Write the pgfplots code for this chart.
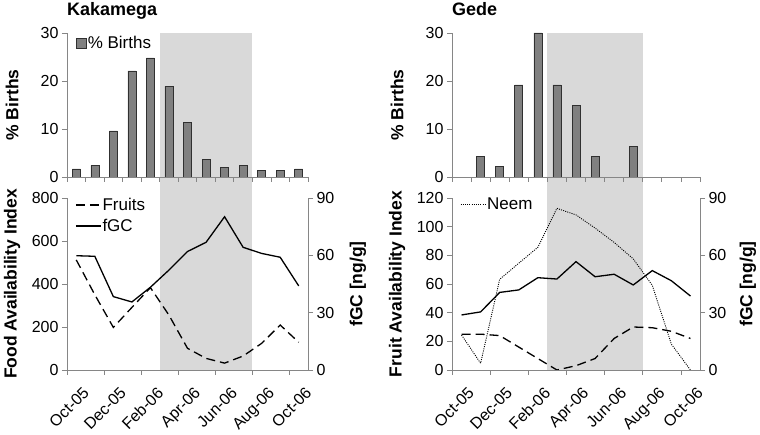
\documentclass[border=0pt]{standalone}
\usepackage{pgfplots}
\pgfplotsset{compat=1.18}
\usepackage{fontspec}
\setmainfont{Liberation Sans}
\definecolor{shadegray}{HTML}{D9D9D9}
\definecolor{barfill}{HTML}{808080}
\definecolor{bardraw}{HTML}{303030}
\definecolor{axgray}{HTML}{868686}
\pgfplotsset{
  base/.style={scale only axis, axis on top, clip=false,
    xmin=0, xmax=13,
    axis line style={draw=axgray, line width=0.8pt},
    tick style={draw=axgray, line width=0.8pt},
    major tick length=5pt, tick align=outside,
    tick label style={font=\fontsize{16}{16}\selectfont, text=black},
    /pgf/number format/assume math mode=true,
    legend style={draw=none, fill=none, inner sep=0pt, font=\fontsize{17}{17}\selectfont,
      nodes={inner sep=1pt}, row sep=5pt},
    legend cell align=left,
  },
  lab/.style={every axis y label/.style={at={(axis description cs:#1,0.5)}, rotate=90, anchor=center,
      font=\bfseries\fontsize{17.5}{17.5}\selectfont}},
  ttl/.style={every axis title/.style={at={(axis description cs:0,1)}, anchor=base west, yshift=17pt,
      inner sep=0pt, font=\bfseries\fontsize{18}{18}\selectfont}},
  linelegend/.style={legend image code/.code={\draw[##1] (0pt,0pt) -- (25pt,0pt);}},
  datex/.style={xtick={0,2,...,12},
    xticklabels={Oct-05,Dec-05,Feb-06,Apr-06,Jun-06,Aug-06,Oct-06},
    every x tick label/.style={xshift=15pt, yshift=-11pt, rotate=45, anchor=north east, inner sep=0pt,
      font=\fontsize{16}{16}\selectfont, text=black}},
  fgcline/.style={black, line width=1.3pt},
  fruitline/.style={black, line width=1.3pt, dash pattern=on 9pt off 5pt},
  neemline/.style={black, line width=0.9pt, dash pattern=on 1pt off 1.2pt},
}
\begin{document}
\begin{tikzpicture}
\path[use as bounding box] (0pt,0pt) rectangle (760pt,435pt);

% ================= Kakamega bottom (left axis) =================
\begin{axis}[base, at={(67pt,65pt)}, anchor=south west, width=241pt, height=172pt,
  axis x line*=bottom, axis y line*=left,
  ymin=0, ymax=800, ytick={0,200,400,600,800},
  datex, ylabel={Food Availability Index}, lab=-0.2282,
  linelegend,
  legend style={at={(axis description cs:0,1)}, anchor=north west, xshift=8pt, yshift=1pt}]
\fill[shadegray] (axis cs:5,0) rectangle ([yshift=21pt]axis cs:10,800);
\addplot[fruitline] coordinates {(0.5,512) (1.5,350) (2.5,198) (3.5,291) (4.5,383) (5.5,255) (6.5,101) (7.5,54) (8.5,32) (9.5,65) (10.5,124) (11.5,209) (12.5,129)};
\addlegendentry{Fruits}
\addlegendimage{fgcline}
\addlegendentry{fGC}
\end{axis}
% ================= Kakamega bottom (right axis) =================
\begin{axis}[base, at={(67pt,65pt)}, anchor=south west, width=241pt, height=172pt,
  axis x line=none, axis y line*=right,
  ymin=0, ymax=90, ytick={0,30,60,90},
  ylabel={fGC [ng/g]}, lab=1.2075]
\addplot[fgcline] coordinates {(0.5,59.8) (1.5,59.5) (2.5,38.4) (3.5,35.6) (4.5,43.3) (5.5,52.3) (6.5,62) (7.5,66.8) (8.5,80.2) (9.5,64.2) (10.5,61) (11.5,59) (12.5,44)};
\end{axis}
% ================= Kakamega top =================
\begin{axis}[base, at={(67pt,258pt)}, anchor=south west, width=241pt, height=144pt,
  axis x line*=bottom, axis y line*=left,
  ymin=0, ymax=30, ytick={0,10,20,30},
  xtick={0,...,13}, xticklabels={},
  ylabel={\% Births}, lab=-0.2282,
  title={Kakamega}, ttl,
  ybar, bar width=8pt,
  legend style={at={(axis description cs:0,1)}, anchor=north west, xshift=9pt, yshift=-2pt}]
\fill[shadegray] (axis cs:5,0) rectangle (axis cs:10,30);
\addplot[fill=barfill, draw=bardraw, line width=0.6pt,
  legend image code/.code={\draw[fill=barfill, draw=bardraw, line width=0.6pt] (0pt,-5pt) rectangle (10pt,5pt);}]
  coordinates {(0.5,1.7) (1.5,2.4) (2.5,9.6) (3.5,22.1) (4.5,24.8) (5.5,18.9) (6.5,11.4) (7.5,3.6) (8.5,2.0) (9.5,2.4) (10.5,1.3) (11.5,1.3) (12.5,1.7)};
\addlegendentry{\% Births}
\end{axis}

% ================= Gede bottom (left axis) =================
\begin{axis}[base, at={(452pt,65pt)}, anchor=south west, width=248pt, height=172pt,
  axis x line*=bottom, axis y line*=left,
  ymin=0, ymax=120, ytick={0,20,...,120},
  datex, ylabel={Fruit Availability Index}, lab=-0.2218,
  linelegend,
  legend style={at={(axis description cs:0,1)}, anchor=north west, xshift=8pt, yshift=1pt}]
\fill[shadegray] (axis cs:5,0) rectangle ([yshift=21pt]axis cs:10,120);
\addplot[neemline] coordinates {(0.5,24.4) (1.5,4.7) (2.5,63.3) (3.5,74.5) (4.5,85.6) (5.5,112.8) (6.5,108.2) (7.5,99) (8.5,89) (9.5,77.5) (10.5,59) (11.5,18) (12.5,0)};
\addlegendentry{Neem}
\addplot[fruitline, forget plot] coordinates {(0.5,25) (1.5,25) (2.5,24) (3.5,16) (4.5,8) (5.5,0) (6.5,3) (7.5,8) (8.5,22) (9.5,30) (10.5,29.5) (11.5,27) (12.5,22)};
\end{axis}
% ================= Gede bottom (right axis) =================
\begin{axis}[base, at={(452pt,65pt)}, anchor=south west, width=248pt, height=172pt,
  axis x line=none, axis y line*=right,
  ymin=0, ymax=90, ytick={0,30,60,90},
  ylabel={fGC [ng/g]}, lab=1.1935]
\addplot[fgcline] coordinates {(0.5,28.8) (1.5,30.4) (2.5,40.6) (3.5,41.9) (4.5,48.3) (5.5,47.6) (6.5,56.7) (7.5,48.8) (8.5,50.1) (9.5,44.5) (10.5,52.0) (11.5,46.7) (12.5,38.7)};
\end{axis}
% ================= Gede top =================
\begin{axis}[base, at={(452pt,258pt)}, anchor=south west, width=248pt, height=144pt,
  axis x line*=bottom, axis y line*=left,
  ymin=0, ymax=30, ytick={0,10,20,30},
  xtick={0,...,13}, xticklabels={},
  ylabel={\% Births}, lab=-0.2218,
  title={Gede}, ttl,
  ybar, bar width=8pt]
\fill[shadegray] (axis cs:5,0) rectangle (axis cs:10,30);
\addplot[fill=barfill, draw=bardraw, line width=0.6pt]
  coordinates {(1.5,4.3) (2.5,2.2) (3.5,19.2) (4.5,30) (5.5,19.2) (6.5,14.9) (7.5,4.3) (9.5,6.4)};
\end{axis}
\end{tikzpicture}
\end{document}
